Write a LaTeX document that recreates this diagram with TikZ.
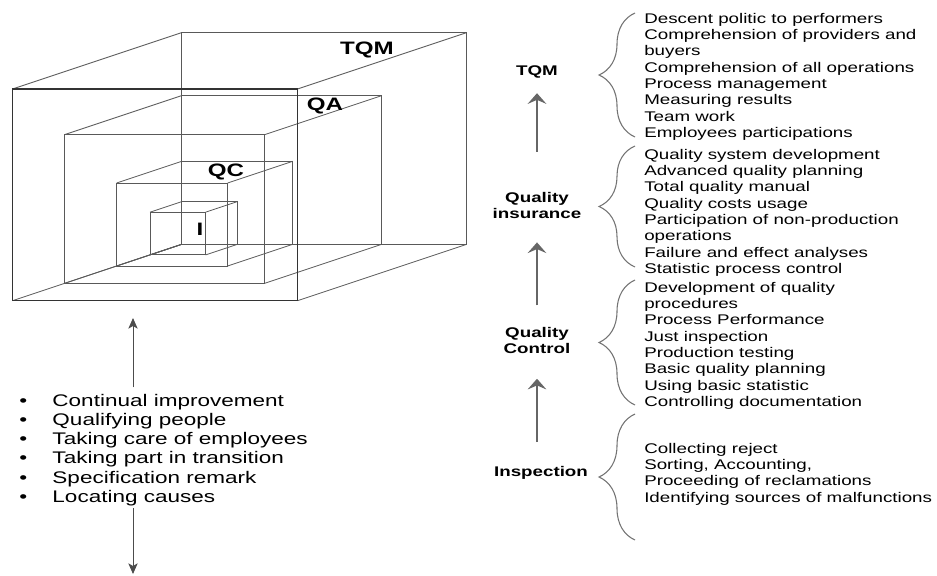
\documentclass[tikz,border=0pt]{standalone}
\usepackage{fontspec}
\setmainfont{Liberation Sans}[FakeStretch=1.34]
\usetikzlibrary{arrows.meta,positioning,calc,decorations.pathreplacing}

% one wire cube, back-bottom-left corner at the origin
\newcommand{\nestcube}[3]{% depth, width, height
  \draw[cubeline] (0,0) rectangle (#2,-#3);
  \draw[cubeline] (-#1,#1/3) rectangle ++(#2,-#3);
  \foreach \cx/\cy in {0/0,#2/0,0/#3,#2/#3}
    \draw[cubeline] (\cx,-\cy) -- ++(-#1,#1/3);
}

\begin{document}
\begin{tikzpicture}[x=0.75pt,y=-0.75pt,
    cubeline/.style={draw=black!65, line width=0.6pt},
    cubefront/.style={draw=black!80, line width=1.1pt},
    cubelbl/.style={font=\fontsize{13.5}{15}\selectfont\bfseries, inner sep=0pt},
    stagelbl/.style={font=\fontsize{10.5}{12}\selectfont\bfseries, align=center, inner sep=0pt},
    items/.style={font=\fontsize{10.5}{12.2}\selectfont, align=left, anchor=north west, inner sep=0pt},
    curly/.style={draw=black!55, line width=0.8pt, decorate, decoration={brace, amplitude=27pt}},
    stagearrow/.style={draw=black!60, line width=1.3pt, -{Stealth[length=8pt,width=14pt,inset=3pt]}},
    listarrow/.style={draw=black!70, line width=0.7pt, -{Stealth[length=8pt,width=7pt,inset=2pt]}}]

\useasboundingbox (0,0) rectangle (937,575);

% nested cubes
\begin{scope}[shift={(181.7,244.3)}]
  \nestcube{169}{285}{211.7}
  \nestcube{117.3}{200}{148.7}
  \nestcube{65}{111}{83}
  \nestcube{31.7}{55.7}{42.7}
  \draw[cubefront] (-169,169/3) rectangle ++(285,-211.7);
\end{scope}
\node[cubelbl] (lblTQM) at (367,50) {TQM};
\node[cubelbl] (lblQA) at (325,106) {QA};
\node[cubelbl] (lblQC) at (226,172) {QC};
\node[cubelbl] (lblI) at (200,229) {I};

% list under the cubes
\node[anchor=north west, inner sep=0pt, font=\fontsize{12.6}{14.4}\selectfont] (list) at (19,392.6) {%
  \begin{tabular}{@{}l@{\hspace{19pt}}l@{}}
  \textbullet & Continual improvement\\
  \textbullet & Qualifying people\\
  \textbullet & Taking care of employees\\
  \textbullet & Taking part in transition\\
  \textbullet & Specification remark\\
  \textbullet & Locating causes
  \end{tabular}};
\coordinate (cubefoot) at (133,318);
\coordinate (listfoot) at (133,574);
\draw[listarrow, shorten <=4pt] (list.north -| cubefoot) -- (cubefoot);
\draw[listarrow] (list.south -| listfoot) -- (listfoot);

% stages
\node[stagelbl] (tqm) at (537,72) {TQM};
\node[stagelbl] (qi) at (537,205) {Quality\\insurance};
\node[stagelbl] (qc) at (537,340) {Quality\\Control};
\node[stagelbl] (insp) at (541,473) {Inspection};

\draw[stagearrow, shorten <=30pt, shorten >=11pt] (qi) -- (tqm);
\draw[stagearrow, shorten <=16pt, shorten >=18pt] (qc) -- (qi);
\draw[stagearrow, shorten <=18pt, shorten >=19pt] (insp.north -| qc) -- (qc);

% braces and their items
\draw[curly] (635,137) -- (635,13);
\draw[curly] (635,267) -- (635,146);
\draw[curly] (635,405) -- (635,280);
\draw[curly] (635,540) -- (635,414);

\node[items] (tqmitems) at (644,13) {Descent politic to performers\\
  Comprehension of providers and\\ buyers\\
  Comprehension of all operations\\ Process management\\
  Measuring results\\ Team work\\ Employees participations};
\node[items] (qiitems) at (644,149) {Quality system development\\
  Advanced quality planning\\ Total quality manual\\
  Quality costs usage\\ Participation of non-production\\
  operations\\ Failure and effect analyses\\ Statistic process control};
\node[items] (qcitems) at (644,282) {Development of quality\\
  procedures\\ Process Performance\\ Just inspection\\
  Production testing\\ Basic quality planning\\
  Using basic statistic\\ Controlling documentation};
\node[items] (inspitems) at (644,443) {Collecting reject\\
  Sorting, Accounting,\\ Proceeding of reclamations\\
  Identifying sources of malfunctions};
\end{tikzpicture}
\end{document}
